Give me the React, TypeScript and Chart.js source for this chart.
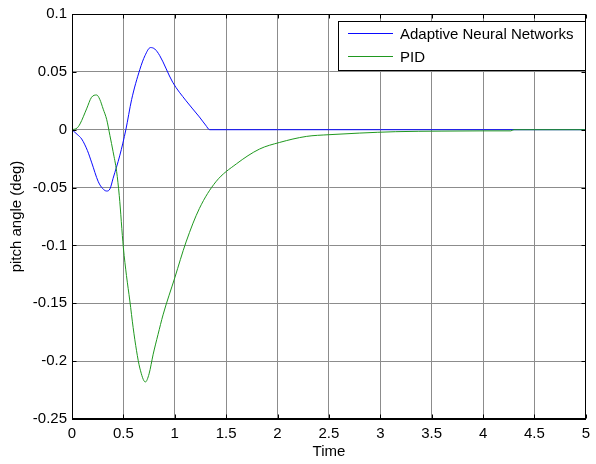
import React, { useEffect, useRef } from "react";
import { Chart, registerables } from "chart.js";

Chart.register(...registerables);

const xTickValues = [0, 0.5, 1, 1.5, 2, 2.5, 3, 3.5, 4, 4.5, 5];
const xTickLabels = ["0", "0.5", "1", "1.5", "2", "2.5", "3", "3.5", "4", "4.5", "5"];
const yTickValues = [0.1, 0.05, 0, -0.05, -0.1, -0.15, -0.2, -0.25];
const yTickLabels = ["0.1", "0.05", "0", "-0.05", "-0.1", "-0.15", "-0.2", "-0.25"];

const seriesNames = ["Adaptive Neural Networks", "PID"];
const seriesColors = ["#0a0aff", "#1f981f"];

const timeANN = [0, 0.05, 0.094, 0.15, 0.19, 0.256, 0.3, 0.337, 0.37, 0.4, 0.466, 0.524, 0.58, 0.66, 0.71, 0.764, 0.806, 0.854, 0.98, 1.11, 1.24, 1.3, 1.34, 2, 3, 4, 5];
const ann = [0, -0.004, -0.008, -0.018, -0.028, -0.045, -0.051, -0.053, -0.051, -0.042, -0.022, 0, 0.026, 0.052, 0.064, 0.071, 0.0697, 0.064, 0.041, 0.025, 0.011, 0.004, 0, 0, 0, 0, 0];

const timePID = [0, 0.05, 0.078, 0.142, 0.19, 0.24, 0.27, 0.304, 0.337, 0.369, 0.4, 0.434, 0.46, 0.5, 0.53, 0.563, 0.595, 0.628, 0.66, 0.714, 0.75, 0.79, 0.837, 0.886, 1.0, 1.11, 1.24, 1.4, 1.6, 1.825, 2.02, 2.28, 2.5, 2.8, 3.15, 3.6, 4.0, 4.27, 4.3, 5];
const pid = [0, 0.0015, 0.005, 0.018, 0.028, 0.030, 0.0263, 0.0177, 0.009, -0.005, -0.019, -0.036, -0.057, -0.102, -0.126, -0.148, -0.171, -0.191, -0.206, -0.218, -0.211, -0.194, -0.177, -0.16, -0.128, -0.097, -0.068, -0.045, -0.0295, -0.0167, -0.011, -0.0058, -0.0043, -0.0029, -0.0017, -0.0012, -0.001, -0.001, 0, 0];

const FONT = "Liberation Sans, Arial, sans-serif";

const framePlugin = {
  id: "frame",
  afterDraw(chart: any) {
    const { ctx, chartArea } = chart;
    const xs = chart.scales.x;
    const ys = chart.scales.y;
    const L = Math.round(chartArea.left) + 0.5;
    const R = Math.round(chartArea.right) - 0.5;
    const T = Math.round(chartArea.top) + 0.5;
    const B = Math.round(chartArea.bottom) - 0.5;
    ctx.save();
    ctx.strokeStyle = "#000";
    ctx.lineWidth = 1;
    ctx.strokeRect(L, T, R - L, B - T);
    const tl = 4;
    ctx.beginPath();
    xTickValues.forEach((v) => {
      const px = Math.round(xs.getPixelForValue(v)) + 0.5;
      ctx.moveTo(px, B);
      ctx.lineTo(px, B - tl);
      ctx.moveTo(px, T);
      ctx.lineTo(px, T + tl);
    });
    yTickValues.forEach((v) => {
      const py = Math.round(ys.getPixelForValue(v)) + 0.5;
      ctx.moveTo(L, py);
      ctx.lineTo(L + tl, py);
      ctx.moveTo(R, py);
      ctx.lineTo(R - tl, py);
    });
    ctx.stroke();

    // legend
    const lx = 338.5, ly = 21.5, lw = 247, lh = 49;
    ctx.fillStyle = "#fff";
    ctx.fillRect(lx, ly, lw, lh);
    ctx.strokeStyle = "#000";
    ctx.strokeRect(lx, ly, lw, lh);
    ctx.font = "15px " + FONT;
    ctx.textBaseline = "middle";
    ctx.textAlign = "left";
    const rows = [33.5, 56.5];
    chart.data.datasets.forEach((ds: any, i: number) => {
      const y = rows[i];
      ctx.strokeStyle = ds.borderColor;
      ctx.beginPath();
      ctx.moveTo(348, y);
      ctx.lineTo(393, y);
      ctx.stroke();
      ctx.fillStyle = "#000";
      ctx.fillText(ds.label, 400, y + 1.5);
    });
    ctx.restore();
  },
};

export default function App() {
  const ref = useRef<HTMLCanvasElement>(null);
  useEffect(() => {
    if (!ref.current) return;
    const chart = new Chart(ref.current, {
      type: "line",
      data: {
        datasets: [
          {
            label: seriesNames[0],
            data: timeANN.map((t, i) => ({ x: t, y: ann[i] })),
            borderColor: seriesColors[0],
            borderWidth: 1,
            pointRadius: 0,
            cubicInterpolationMode: "monotone",
            order: 1,
          },
          {
            label: seriesNames[1],
            data: timePID.map((t, i) => ({ x: t, y: pid[i] })),
            borderColor: seriesColors[1],
            borderWidth: 1,
            pointRadius: 0,
            cubicInterpolationMode: "monotone",
            order: 0,
          },
        ],
      },
      options: {
        animation: false,
        responsive: false,
        events: [],
        layout: { padding: { left: 0, right: 6, top: 13, bottom: 0 } },
        plugins: { legend: { display: false }, tooltip: { enabled: false } },
        scales: {
          x: {
            type: "linear",
            min: 0,
            max: 5,
            afterBuildTicks: (s: any) => {
              s.ticks = xTickValues.map((v) => ({ value: v }));
            },
            afterFit: (s: any) => {
              s.height = 45;
            },
            ticks: {
              color: "#000",
              font: { family: FONT, size: 15 },
              padding: 6,
              maxRotation: 0,
              autoSkip: false,
              callback: (v: any) => xTickLabels[xTickValues.indexOf(Number(v))] ?? "",
            },
            grid: { color: "#8c8c8c", lineWidth: 1, drawTicks: false },
            border: { display: true, color: "#000" },
            title: {
              display: true,
              text: "Time",
              color: "#000",
              font: { family: FONT, size: 15 },
              padding: { top: 0, bottom: 3 },
            },
          },
          y: {
            type: "linear",
            min: -0.25,
            max: 0.1,
            afterBuildTicks: (s: any) => {
              s.ticks = yTickValues.map((v) => ({ value: v }));
            },
            afterFit: (s: any) => {
              s.width = 72;
            },
            ticks: {
              color: "#000",
              font: { family: FONT, size: 15 },
              padding: 5,
              autoSkip: false,
              callback: (v: any) => {
                const idx = yTickValues.findIndex((t) => Math.abs(t - Number(v)) < 1e-9);
                return idx >= 0 ? yTickLabels[idx] : "";
              },
            },
            grid: { color: "#8c8c8c", lineWidth: 1, drawTicks: false },
            border: { display: true, color: "#000" },
            title: {
              display: true,
              text: "pitch angle (deg)",
              color: "#000",
              font: { family: FONT, size: 15 },
              padding: { top: 8, bottom: 0 },
            },
          },
        },
      },
      plugins: [framePlugin],
    } as any);
    return () => chart.destroy();
  }, []);
  return (
    <canvas
      ref={ref}
      width={596}
      height={464}
      style={{ position: "absolute", left: 0, top: 0, width: 596, height: 464, display: "block", background: "#fff" }}
    />
  );
}
